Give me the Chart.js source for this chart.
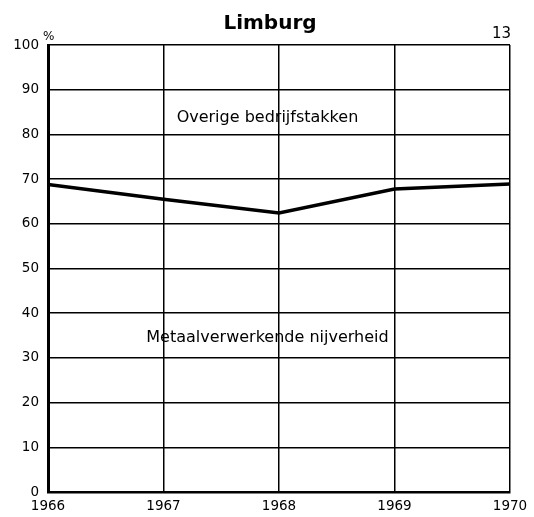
<!DOCTYPE html>
<html>
<head>
<meta charset="utf-8">
<script src="https://cdn.jsdelivr.net/npm/chart.js@4.4.1/dist/chart.umd.min.js"></script>
<style>
  html, body { margin: 0; padding: 0; background: #fff; }
  #wrap { width: 534px; height: 517px; }
</style>
</head>
<body>
<div id="wrap"><canvas id="chart" width="534" height="517"></canvas></div>
<script>
// Aandeel metaalverwerkende nijverheid in Limburg (%)
const years = [1966, 1967, 1968, 1969, 1970];
const metaalShare = [68.8, 65.5, 62.4, 67.8, 68.9];

const yTicks = [0, 10, 20, 30, 40, 50, 60, 70, 80, 90, 100];

const titleText = 'Limburg';
const pageNumber = '13';
const unitText = '%';
const upperLabel = { text: 'Overige bedrijfstakken', x: 1967.9, y: 82.8 };
const lowerLabel = { text: 'Metaalverwerkende nijverheid', x: 1967.9, y: 33.6 };

const FONT = '"DejaVu Sans", "Liberation Sans", sans-serif';

// titel, eenheid, paginanummer en de vlaklabels
const textPlugin = {
    id: 'extraText',
    afterDatasetsDraw(chart) {
        const { ctx, chartArea, scales } = chart;
        ctx.save();
        ctx.fillStyle = '#000';
        ctx.textBaseline = 'alphabetic';

        ctx.font = 'bold 20px ' + FONT;
        ctx.textAlign = 'center';
        ctx.fillText(titleText, 270, 29);

        ctx.font = '15px ' + FONT;
        ctx.textAlign = 'right';
        ctx.fillText(pageNumber, chartArea.right + 1, 38);

        ctx.font = '12px ' + FONT;
        ctx.textAlign = 'left';
        ctx.fillText(unitText, chartArea.left - 5, 40);

        ctx.font = '16px ' + FONT;
        ctx.textAlign = 'center';
        [upperLabel, lowerLabel].forEach(l => {
            ctx.fillText(l.text, scales.x.getPixelForValue(l.x), scales.y.getPixelForValue(l.y));
        });
        ctx.restore();
    }
};

new Chart(document.getElementById('chart'), {
    type: 'line',
    data: {
        datasets: [{
            data: years.map((y, i) => ({ x: y, y: metaalShare[i] })),
            borderColor: '#000',
            borderWidth: 3.5,
            pointRadius: 0,
            tension: 0,
            fill: false
        }]
    },
    options: {
        responsive: false,
        animation: false,
        layout: { padding: { top: 45, right: 24, left: 0, bottom: 0 } },
        plugins: {
            legend: { display: false },
            tooltip: { enabled: false },
            title: { display: false }
        },
        scales: {
            x: {
                type: 'linear',
                min: years[0],
                max: years[years.length - 1],
                afterBuildTicks(axis) {
                    axis.ticks = years.map(v => ({ value: v }));
                },
                grid: { color: '#000', lineWidth: 1.5, drawTicks: false },
                border: { color: '#000', width: 2.5 },
                ticks: {
                    color: '#000',
                    font: { family: FONT, size: 13.5 },
                    padding: 6,
                    maxRotation: 0,
                    callback: v => String(v)
                },
                afterFit(axis) { axis.height = 25; }
            },
            y: {
                min: 0,
                max: 100,
                afterBuildTicks(axis) {
                    axis.ticks = yTicks.map(v => ({ value: v }));
                },
                grid: { color: '#000', lineWidth: 1.5, drawTicks: false },
                border: { color: '#000', width: 3 },
                ticks: {
                    color: '#000',
                    font: { family: FONT, size: 13.5 },
                    padding: 9
                },
                afterFit(axis) { axis.width = 48; }
            }
        }
    },
    plugins: [textPlugin]
});
</script>
</body>
</html>
